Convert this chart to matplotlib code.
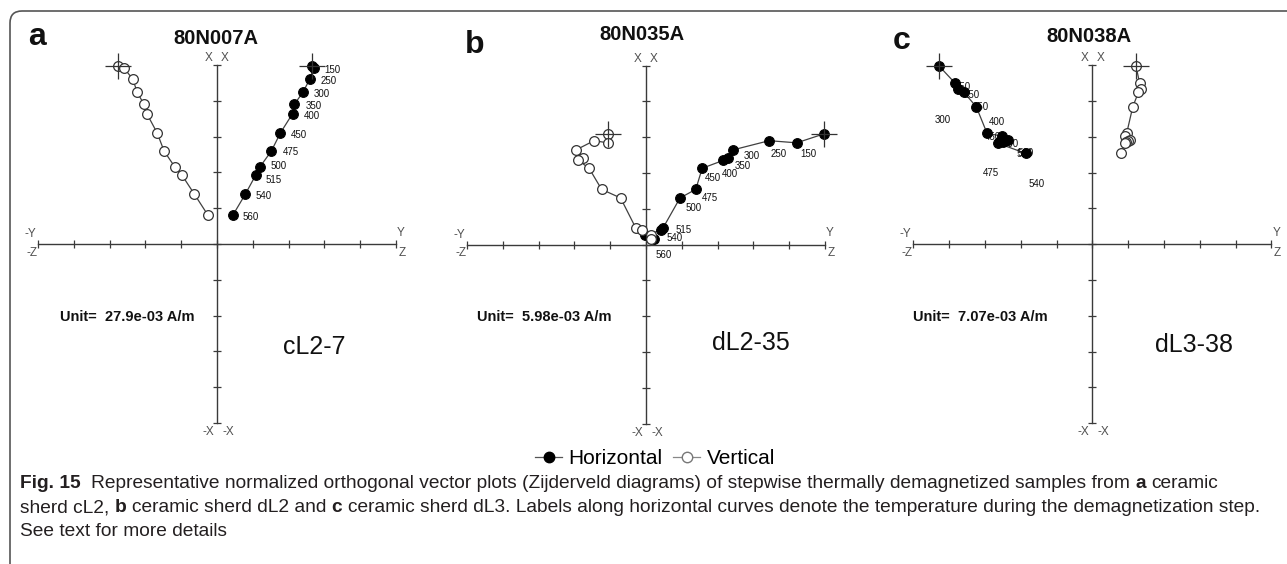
import matplotlib
matplotlib.use('Agg')
import matplotlib.pyplot as plt
from matplotlib.lines import Line2D
from matplotlib.patches import FancyBboxPatch
from matplotlib.transforms import IdentityTransform

W, H, DPI = 1287, 564, 100
plt.rcParams['font.family'] = ['Liberation Sans', 'DejaVu Sans']

# ---------------- data ----------------
steps = ['NRM', '150', '250', '300', '350', '400', '450', '475', '500', '515', '540', '560']

# panel a : 80N007A (cL2-7)
a_X = [4.98, 4.92, 4.60, 4.24, 3.90, 3.64, 3.10, 2.60, 2.14, 1.94, 1.39, 0.80]
a_Y = [2.64, 2.70, 2.59, 2.40, 2.16, 2.11, 1.77, 1.52, 1.19, 1.09, 0.79, 0.44]
a_Z = [-2.77, -2.60, -2.35, -2.23, -2.04, -1.96, -1.67, -1.48, -1.17, -0.99, -0.63, -0.25]

# panel b : 80N035A (dL2-35)
b_steps = steps + ['']
b_X = [3.09, 2.84, 2.90, 2.64, 2.42, 2.35, 2.13, 1.54, 1.30, 0.47, 0.40, 0.26, 0.15]
b_Y = [4.97, 4.21, 3.44, 2.42, 2.28, 2.16, 1.57, 1.39, 0.95, 0.48, 0.42, -0.02, 0.21]
b_Z = [-1.05, -1.07, -1.45, -1.96, -1.77, -1.89, -1.59, -1.24, -0.71, -0.29, -0.10, 0.13, 0.13]

# panel c : 80N038A (dL3-38)
c_X = [4.98, 4.51, 4.34, 4.25, 3.84, 3.10, 3.02, 2.91, 2.88, 2.87, 2.82, 2.54]
c_Y = [-4.28, -3.84, -3.75, -3.59, -3.24, -2.94, -2.51, -2.36, -2.58, -2.50, -2.63, -1.86]
c_Z = [1.22, 1.32, 1.36, 1.29, 1.13, 0.96, 0.92, 1.04, 1.00, 0.94, 0.92, 0.80]

titles = ['80N007A', '80N035A', '80N038A']
panel_letters = ['a', 'b', 'c']
units = ['Unit=  27.9e-03 A/m', 'Unit=  5.98e-03 A/m', 'Unit=  7.07e-03 A/m']
samples = ['cL2-7', 'dL2-35', 'dL3-38']

# label offsets (pixels right, pixels down) -- layout only
a_off = [None, (19, 2), (19, 2), (19, 2), (19, 2), (19, 2), (19, 2), (19, 1),
         (19, -1), (18, 5), (18, 2), (18, 2)]
b_off = [None, (11.6, 11.6), (9, 13.6), (19.6, 5.7), (15.6, 8), (7, 14), (11, 10),
         (14.3, 8.4), (13.3, 10.3), (20, 2.3), (14, 8.3), (18, 20), None]
c_off = [None, (8, 4), (14, 6), (-21, 27.5), (4, 0), (9.4, -11.6), (-10, 1),
         (-17, 33), (11, 3), (22, 12), (38, 41), (0, 0)]

# ---------------- figure ----------------
fig = plt.figure(figsize=(W / DPI, H / DPI), dpi=DPI, facecolor='white')

def px(x, y):
    return x / W, 1 - y / H

UNIT = 35.8
LIM = 6.2
AXC = '#3a3a3a'
GRAY = '#505050'


def make_axes(cx, cy):
    w = 2 * LIM * UNIT
    ax = fig.add_axes([(cx - LIM * UNIT) / W, 1 - (cy + LIM * UNIT) / H, w / W, w / H])
    ax.set_xlim(-LIM, LIM)
    ax.set_ylim(-LIM, LIM)
    ax.patch.set_alpha(0)
    for s in ['top', 'right']:
        ax.spines[s].set_visible(False)
    for s in ['left', 'bottom']:
        ax.spines[s].set_position('zero')
        ax.spines[s].set_bounds(-5, 5)
        ax.spines[s].set_color(AXC)
        ax.spines[s].set_linewidth(1.0)
    ax.set_xticks(range(-5, 6))
    ax.set_yticks(range(-5, 6))
    ax.tick_params(direction='inout', length=6, width=0.9, colors=AXC,
                   labelbottom=False, labelleft=False)
    kw = dict(textcoords='offset points', ha='center', va='center', fontsize=8.5, color=GRAY)
    k = 0.72
    ax.annotate('X', (0, 5), xytext=(-8 * k, 7 * k), **kw)
    ax.annotate('X', (0, 5), xytext=(8 * k, 7 * k), **kw)
    ax.annotate('-X', (0, -5), xytext=(-9 * k, -9 * k), **kw)
    ax.annotate('-X', (0, -5), xytext=(11 * k, -9 * k), **kw)
    ax.annotate('-Y', (-5, 0), xytext=(-8 * k, 10 * k), **kw)
    ax.annotate('-Z', (-5, 0), xytext=(-6 * k, -9 * k), **kw)
    ax.annotate('Y', (5, 0), xytext=(5 * k, 11 * k), **kw)
    ax.annotate('Z', (5, 0), xytext=(6 * k, -9 * k), **kw)
    return ax


def draw_panel(ax, X, Y, Z, labels, offs):
    ms = 7.0
    ax.plot(Y, X, '-', color='#404040', lw=0.9, zorder=3, clip_on=False)
    ax.plot(Z, X, '-', color='#404040', lw=0.9, zorder=3, clip_on=False)
    ax.plot(Y, X, 'o', ms=ms, mfc='black', mec='black', mew=0.8, zorder=5, clip_on=False)
    ax.plot(Z, X, 'o', ms=ms, mfc='white', mec='#333333', mew=0.9, zorder=5, clip_on=False)
    ax.plot(Y[0], X[0], '+', ms=19, mew=0.9, color='#333333', zorder=6, clip_on=False)
    ax.plot(Z[0], X[0], '+', ms=19, mew=0.9, color='#333333', zorder=6, clip_on=False)
    for i, lab in enumerate(labels):
        o = offs[i]
        if o is None or lab == '' or lab == 'NRM':
            continue
        ax.annotate(lab, (Y[i], X[i]), xytext=(o[0] * 0.72, -o[1] * 0.72),
                    textcoords='offset points', ha='center', va='center',
                    fontsize=7.0, color='#111111', zorder=4)


centers = [(217, 244), (646, 244.5), (1092.3, 244.3)]
data = [(a_X, a_Y, a_Z, steps, a_off), (b_X, b_Y, b_Z, b_steps, b_off), (c_X, c_Y, c_Z, steps, c_off)]
for (cx, cy), d in zip(centers, data):
    ax = make_axes(cx, cy)
    draw_panel(ax, *d)

# titles, panel letters, unit texts, sample names
title_xy = [(216, 39), (642, 35), (1089, 37)]
letter_xy = [(28, 45), (465, 53), (893, 49)]
unit_xy = [(60, 317), (477, 317), (913, 317)]
sample_xy = [(283, 347), (712, 343), (1155, 345)]
for i in range(3):
    fig.text(*px(*title_xy[i]), titles[i], ha='center', va='center', fontsize=14.5,
             fontweight='bold', color='#111111')
    fig.text(*px(*letter_xy[i]), panel_letters[i], ha='left', va='baseline', fontsize=23,
             fontweight='bold', color='#111111')
    fig.text(*px(*unit_xy[i]), units[i], ha='left', va='center', fontsize=10.5,
             fontweight='bold', color='#111111')
    fig.text(*px(*sample_xy[i]), samples[i], ha='left', va='center', fontsize=18,
             color='#111111')

# legend
handles = [Line2D([], [], color='#555555', lw=0.9, marker='o', ms=7.5, mfc='black', mec='black'),
           Line2D([], [], color='#888888', lw=0.9, marker='o', ms=7.5, mfc='white', mec='#777777')]
fig.legend(handles, ['Horizontal', 'Vertical'], loc='center', bbox_to_anchor=px(655, 459),
           ncol=2, frameon=False, fontsize=15, handlelength=1.3, handletextpad=0.3,
           columnspacing=0.5, borderpad=0)

# rounded frame
frame = FancyBboxPatch((10, -30), 1320, H - 11 + 30, boxstyle='round,pad=0,rounding_size=12',
                       transform=IdentityTransform(), fill=False, edgecolor='#555555', lw=1.2)
fig.add_artist(frame)

# caption
renderer = fig.canvas.get_renderer()
CAPC = '#231f20'


def text_w(s, size, bold):
    t = fig.text(0, 0, s, fontsize=size, fontweight='bold' if bold else 'normal')
    w = t.get_window_extent(renderer=renderer).width
    t.remove()
    return w


def rich_line(x0, y, segs, size, draw=True):
    sp = text_w('n n', size, False) - text_w('nn', size, False)
    x = x0
    arts = []
    for s, bold in segs:
        lead = len(s) - len(s.lstrip(' '))
        trail = len(s) - len(s.rstrip(' '))
        core = s.strip(' ')
        x += lead * sp
        if core:
            t = fig.text(*px(x, y), core, fontsize=size, fontweight='bold' if bold else 'normal',
                         ha='left', va='center', color=CAPC)
            x += t.get_window_extent(renderer=renderer).width
            arts.append(t)
        x += trail * sp
    if not draw:
        for a in arts:
            a.remove()
    return x


line1 = [('Fig. 15', True), ('  Representative normalized orthogonal vector plots (Zijderveld diagrams) of '
                             'stepwise thermally demagnetized samples from ', False), ('a', True),
         (' ceramic', False)]
line2 = [('sherd cL2, ', False), ('b', True), (' ceramic sherd dL2 and ', False), ('c', True),
         (' ceramic sherd dL3. Labels along horizontal curves denote the temperature during the '
          'demagnetization step.', False)]
line3 = [('See text for more details', False)]

s0 = 12.0
wend = rich_line(20, 508, line2, s0, draw=False)
cap_size = s0 * (1248 / (wend - 20))
rich_line(20, 483, line1, cap_size)
rich_line(20, 508, line2, cap_size)
rich_line(20, 532, line3, cap_size)

fig.savefig('out.png', dpi=DPI, facecolor='white')
